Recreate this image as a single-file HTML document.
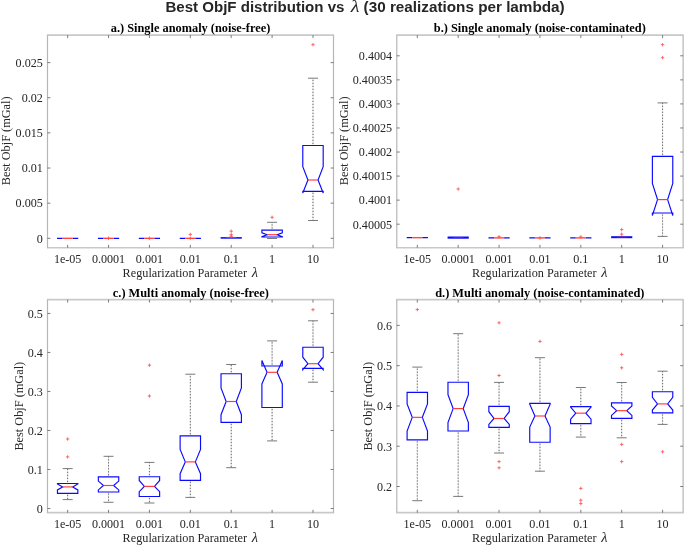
<!DOCTYPE html>
<html><head><meta charset="utf-8"><title>Best ObjF distribution vs lambda</title>
<style>html,body{margin:0;padding:0;background:#fff}body{width:685px;height:546px;overflow:hidden;font-family:"Liberation Serif",serif}svg{display:block;will-change:transform}</style>
</head><body>
<svg width="685" height="546" viewBox="0 0 685 546" font-family="'Liberation Serif', serif" fill="#262626">
<rect width="685" height="546" fill="#fff"/>
<text x="344.4" y="12.3" text-anchor="end" font-family="'Liberation Sans', sans-serif" font-weight="bold" font-size="15.05" fill="#262626">Best ObjF distribution vs</text>
<text transform="translate(355 12.3) scale(1.15 1)" text-anchor="middle" font-style="italic" font-size="17.5" fill="#262626">λ</text>
<text x="363.6" y="12.3" text-anchor="start" font-family="'Liberation Sans', sans-serif" font-weight="bold" font-size="15.28" fill="#262626">(30 realizations per lambda)</text>
<path d="M46.9 35.15H334.1M46.9 247.75H334.1" fill="none" stroke="#c9c9c9" stroke-width="1.7"/>
<path d="M47.5 35.15V247.75M333.5 35.15V247.75" fill="none" stroke="#b6b6b6" stroke-width="1.2"/>
<path d="M67.65 247.75v-2.9M67.65 35.15v2.9M108.54 247.75v-2.9M108.54 35.15v2.9M149.43 247.75v-2.9M149.43 35.15v2.9M190.32 247.75v-2.9M190.32 35.15v2.9M231.21 247.75v-2.9M231.21 35.15v2.9M272.10 247.75v-2.9M272.10 35.15v2.9M312.99 247.75v-2.9M312.99 35.15v2.9M47.5 238.30h2.9M333.5 238.30h-2.9M47.5 203.16h2.9M333.5 203.16h-2.9M47.5 168.02h2.9M333.5 168.02h-2.9M47.5 132.88h2.9M333.5 132.88h-2.9M47.5 97.74h2.9M333.5 97.74h-2.9M47.5 62.60h2.9M333.5 62.60h-2.9" fill="none" stroke="#5c5c5c" stroke-width="0.8"/>
<text x="67.65" y="262.85" text-anchor="middle" font-size="12.1">1e-05</text>
<text x="108.54" y="262.85" text-anchor="middle" font-size="12.1">0.0001</text>
<text x="149.43" y="262.85" text-anchor="middle" font-size="12.1">0.001</text>
<text x="190.32" y="262.85" text-anchor="middle" font-size="12.1">0.01</text>
<text x="231.21" y="262.85" text-anchor="middle" font-size="12.1">0.1</text>
<text x="272.10" y="262.85" text-anchor="middle" font-size="12.1">1</text>
<text x="312.99" y="262.85" text-anchor="middle" font-size="12.1">10</text>
<text x="42.80" y="242.60" text-anchor="end" font-size="12.1">0</text>
<text x="42.80" y="207.46" text-anchor="end" font-size="12.1">0.005</text>
<text x="42.80" y="172.32" text-anchor="end" font-size="12.1">0.01</text>
<text x="42.80" y="137.18" text-anchor="end" font-size="12.1">0.015</text>
<text x="42.80" y="102.04" text-anchor="end" font-size="12.1">0.02</text>
<text x="42.80" y="66.90" text-anchor="end" font-size="12.1">0.025</text>
<text x="122.60" y="277.20" font-size="12.22">Regularization Parameter</text>
<text x="255.00" y="277.20" text-anchor="middle" font-style="italic" font-size="14.5">λ</text>
<text x="190.50" y="32.25" text-anchor="middle" font-size="12.35" font-weight="bold" fill="#000">a.) Single anomaly (noise-free)</text>
<text transform="translate(10.30 140.85) rotate(-90)" text-anchor="middle" font-size="12.3">Best ObjF (mGal)</text>
<path d="M57.05 238.30H62.60M72.70 238.30H78.25" stroke="#0a0aff" stroke-width="1.3" fill="none"/>
<path d="M62.60 238.30h10.10" stroke="#ff3a3a" stroke-width="1.3" fill="none"/>
<path d="M97.94 238.30H103.49M113.59 238.30H119.14" stroke="#0a0aff" stroke-width="1.3" fill="none"/>
<path d="M103.49 238.30h10.10" stroke="#ff3a3a" stroke-width="1.3" fill="none"/>
<path d="M106.84 238.30h3.4M108.54 236.60v3.4" stroke="#ff4a4a" stroke-width="0.8" fill="none"/>
<path d="M138.83 238.30H144.38M154.48 238.30H160.03" stroke="#0a0aff" stroke-width="1.3" fill="none"/>
<path d="M144.38 238.30h10.10" stroke="#ff3a3a" stroke-width="1.3" fill="none"/>
<path d="M147.73 238.30h3.4M149.43 236.60v3.4" stroke="#ff4a4a" stroke-width="0.8" fill="none"/>
<path d="M179.72 238.30H185.27M195.37 238.30H200.92" stroke="#0a0aff" stroke-width="1.3" fill="none"/>
<path d="M185.27 238.30h10.10" stroke="#ff3a3a" stroke-width="1.3" fill="none"/>
<path d="M188.62 234.40h3.4M190.32 232.70v3.4M188.62 238.30h3.4M190.32 236.60v3.4" stroke="#ff4a4a" stroke-width="0.8" fill="none"/>
<path d="M220.61 237.90h21.20" stroke="#0a0aff" stroke-width="1.6" fill="none"/>
<path d="M226.16 237.45h10.10" stroke="#ff3030" stroke-width="0.9" fill="none"/>
<path d="M229.51 231.20h3.4M231.21 229.50v3.4M229.51 234.70h3.4M231.21 233.00v3.4M229.51 236.30h3.4M231.21 234.60v3.4" stroke="#ff4a4a" stroke-width="0.8" fill="none"/>
<path d="M272.10 229.50V222.30M272.10 237.60V238.50" stroke="#dedede" stroke-width="0.9" fill="none"/>
<path d="M272.10 229.50V222.30M272.10 237.60V238.50" stroke="#484848" stroke-width="0.8" stroke-dasharray="1.2 1.8" stroke-dashoffset="-0.9" fill="none"/>
<path d="M267.10 222.30h10.0M267.10 238.50h10.0" stroke="#6a6a6a" stroke-width="0.9" fill="none"/>
<path d="M261.90 237.00L261.90 236.70L267.05 234.70L261.90 232.80L261.90 230.10L282.30 230.10L282.30 232.80L277.15 234.70L282.30 236.70L282.30 237.00Z" stroke="#0a0aff" stroke-width="1.15" fill="none" stroke-linejoin="miter"/>
<path d="M267.05 234.70H277.15" stroke="#ff3a3a" stroke-width="1.15" fill="none"/>
<path d="M270.40 217.30h3.4M272.10 215.60v3.4" stroke="#ff4a4a" stroke-width="0.8" fill="none"/>
<path d="M312.99 144.90V78.20M312.99 191.90V220.50" stroke="#dedede" stroke-width="0.9" fill="none"/>
<path d="M312.99 144.90V78.20M312.99 191.90V220.50" stroke="#484848" stroke-width="0.8" stroke-dasharray="1.2 1.8" stroke-dashoffset="-0.9" fill="none"/>
<path d="M307.99 78.20h10.0M307.99 220.50h10.0" stroke="#6a6a6a" stroke-width="0.9" fill="none"/>
<path d="M302.79 191.30L302.79 193.00L307.94 180.00L302.79 166.60L302.79 145.50L323.19 145.50L323.19 166.60L318.04 180.00L323.19 193.00L323.19 191.30Z" stroke="#0a0aff" stroke-width="1.15" fill="none" stroke-linejoin="miter"/>
<path d="M307.94 180.00H318.04" stroke="#ff3a3a" stroke-width="1.15" fill="none"/>
<path d="M311.29 44.70h3.4M312.99 43.00v3.4" stroke="#ff4a4a" stroke-width="0.8" fill="none"/>
<path d="M396.2 35.15H683.7M396.2 247.75H683.7" fill="none" stroke="#c9c9c9" stroke-width="1.7"/>
<path d="M396.8 35.15V247.75M683.1 35.15V247.75" fill="none" stroke="#b6b6b6" stroke-width="1.2"/>
<path d="M417.30 247.75v-2.9M417.30 35.15v2.9M458.18 247.75v-2.9M458.18 35.15v2.9M499.06 247.75v-2.9M499.06 35.15v2.9M539.94 247.75v-2.9M539.94 35.15v2.9M580.82 247.75v-2.9M580.82 35.15v2.9M621.70 247.75v-2.9M621.70 35.15v2.9M662.58 247.75v-2.9M662.58 35.15v2.9M396.8 224.20h2.9M683.1 224.20h-2.9M396.8 200.14h2.9M683.1 200.14h-2.9M396.8 176.09h2.9M683.1 176.09h-2.9M396.8 152.03h2.9M683.1 152.03h-2.9M396.8 127.97h2.9M683.1 127.97h-2.9M396.8 103.91h2.9M683.1 103.91h-2.9M396.8 79.86h2.9M683.1 79.86h-2.9M396.8 55.80h2.9M683.1 55.80h-2.9" fill="none" stroke="#5c5c5c" stroke-width="0.8"/>
<text x="417.30" y="262.85" text-anchor="middle" font-size="12.1">1e-05</text>
<text x="458.18" y="262.85" text-anchor="middle" font-size="12.1">0.0001</text>
<text x="499.06" y="262.85" text-anchor="middle" font-size="12.1">0.001</text>
<text x="539.94" y="262.85" text-anchor="middle" font-size="12.1">0.01</text>
<text x="580.82" y="262.85" text-anchor="middle" font-size="12.1">0.1</text>
<text x="621.70" y="262.85" text-anchor="middle" font-size="12.1">1</text>
<text x="662.58" y="262.85" text-anchor="middle" font-size="12.1">10</text>
<text x="392.10" y="228.50" text-anchor="end" font-size="12.1">0.40005</text>
<text x="392.10" y="204.44" text-anchor="end" font-size="12.1">0.4001</text>
<text x="392.10" y="180.39" text-anchor="end" font-size="12.1">0.40015</text>
<text x="392.10" y="156.33" text-anchor="end" font-size="12.1">0.4002</text>
<text x="392.10" y="132.27" text-anchor="end" font-size="12.1">0.40025</text>
<text x="392.10" y="108.21" text-anchor="end" font-size="12.1">0.4003</text>
<text x="392.10" y="84.16" text-anchor="end" font-size="12.1">0.40035</text>
<text x="392.10" y="60.10" text-anchor="end" font-size="12.1">0.4004</text>
<text x="472.05" y="277.20" font-size="12.22">Regularization Parameter</text>
<text x="604.45" y="277.20" text-anchor="middle" font-style="italic" font-size="14.5">λ</text>
<text x="539.80" y="32.25" text-anchor="middle" font-size="12.35" font-weight="bold" fill="#000">b.) Single anomaly (noise-contaminated)</text>
<text transform="translate(348.10 140.85) rotate(-90)" text-anchor="middle" font-size="12.3">Best ObjF (mGal)</text>
<path d="M406.70 237.70H412.25M422.35 237.70H427.90" stroke="#0a0aff" stroke-width="1.3" fill="none"/>
<path d="M412.25 237.70h10.10" stroke="#ff3a3a" stroke-width="1.3" fill="none"/>
<path d="M447.58 237.60h21.20" stroke="#0a0aff" stroke-width="2.2" fill="none"/>
<path d="M453.13 237.60h10.10" stroke="#c01048" stroke-width="0.9" fill="none"/>
<path d="M456.48 189.00h3.4M458.18 187.30v3.4" stroke="#ff4a4a" stroke-width="0.8" fill="none"/>
<path d="M488.46 237.90H494.01M504.11 237.90H509.66" stroke="#0a0aff" stroke-width="1.3" fill="none"/>
<path d="M494.01 237.90h10.10" stroke="#ff3a3a" stroke-width="1.3" fill="none"/>
<path d="M497.36 236.70h3.4M499.06 235.00v3.4" stroke="#ff4a4a" stroke-width="0.8" fill="none"/>
<path d="M529.34 237.90H534.89M544.99 237.90H550.54" stroke="#0a0aff" stroke-width="1.3" fill="none"/>
<path d="M534.89 237.90h10.10" stroke="#ff3a3a" stroke-width="1.3" fill="none"/>
<path d="M538.24 237.90h3.4M539.94 236.20v3.4" stroke="#ff4a4a" stroke-width="0.8" fill="none"/>
<path d="M570.22 237.90H575.77M585.87 237.90H591.42" stroke="#0a0aff" stroke-width="1.3" fill="none"/>
<path d="M575.77 237.90h10.10" stroke="#ff3a3a" stroke-width="1.3" fill="none"/>
<path d="M579.12 236.90h3.4M580.82 235.20v3.4" stroke="#ff4a4a" stroke-width="0.8" fill="none"/>
<path d="M611.10 237.20h21.20" stroke="#0a0aff" stroke-width="2.0" fill="none"/>
<path d="M616.65 237.20h10.10" stroke="#c01048" stroke-width="0.9" fill="none"/>
<path d="M620.00 229.60h3.4M621.70 227.90v3.4M620.00 234.20h3.4M621.70 232.50v3.4" stroke="#ff4a4a" stroke-width="0.8" fill="none"/>
<path d="M662.58 155.80V102.90M662.58 213.60V236.40" stroke="#dedede" stroke-width="0.9" fill="none"/>
<path d="M662.58 155.80V102.90M662.58 213.60V236.40" stroke="#484848" stroke-width="0.8" stroke-dasharray="1.2 1.8" stroke-dashoffset="-0.9" fill="none"/>
<path d="M657.58 102.90h10.0M657.58 236.40h10.0" stroke="#6a6a6a" stroke-width="0.9" fill="none"/>
<path d="M652.38 213.00L652.38 215.50L657.53 199.60L652.38 183.30L652.38 156.40L672.78 156.40L672.78 183.30L667.63 199.60L672.78 215.50L672.78 213.00Z" stroke="#0a0aff" stroke-width="1.15" fill="none" stroke-linejoin="miter"/>
<path d="M657.53 199.60H667.63" stroke="#ff3a3a" stroke-width="1.15" fill="none"/>
<path d="M660.88 44.70h3.4M662.58 43.00v3.4M660.88 57.70h3.4M662.58 56.00v3.4" stroke="#ff4a4a" stroke-width="0.8" fill="none"/>
<path d="M46.9 299.7H334.1M46.9 512.7H334.1" fill="none" stroke="#c9c9c9" stroke-width="1.7"/>
<path d="M47.5 299.7V512.7M333.5 299.7V512.7" fill="none" stroke="#b6b6b6" stroke-width="1.2"/>
<path d="M67.65 512.7v-2.9M67.65 299.7v2.9M108.54 512.7v-2.9M108.54 299.7v2.9M149.43 512.7v-2.9M149.43 299.7v2.9M190.32 512.7v-2.9M190.32 299.7v2.9M231.21 512.7v-2.9M231.21 299.7v2.9M272.10 512.7v-2.9M272.10 299.7v2.9M312.99 512.7v-2.9M312.99 299.7v2.9M47.5 508.50h2.9M333.5 508.50h-2.9M47.5 469.49h2.9M333.5 469.49h-2.9M47.5 430.48h2.9M333.5 430.48h-2.9M47.5 391.47h2.9M333.5 391.47h-2.9M47.5 352.46h2.9M333.5 352.46h-2.9M47.5 313.45h2.9M333.5 313.45h-2.9" fill="none" stroke="#5c5c5c" stroke-width="0.8"/>
<text x="67.65" y="527.80" text-anchor="middle" font-size="12.1">1e-05</text>
<text x="108.54" y="527.80" text-anchor="middle" font-size="12.1">0.0001</text>
<text x="149.43" y="527.80" text-anchor="middle" font-size="12.1">0.001</text>
<text x="190.32" y="527.80" text-anchor="middle" font-size="12.1">0.01</text>
<text x="231.21" y="527.80" text-anchor="middle" font-size="12.1">0.1</text>
<text x="272.10" y="527.80" text-anchor="middle" font-size="12.1">1</text>
<text x="312.99" y="527.80" text-anchor="middle" font-size="12.1">10</text>
<text x="42.80" y="512.80" text-anchor="end" font-size="12.1">0</text>
<text x="42.80" y="473.79" text-anchor="end" font-size="12.1">0.1</text>
<text x="42.80" y="434.78" text-anchor="end" font-size="12.1">0.2</text>
<text x="42.80" y="395.77" text-anchor="end" font-size="12.1">0.3</text>
<text x="42.80" y="356.76" text-anchor="end" font-size="12.1">0.4</text>
<text x="42.80" y="317.75" text-anchor="end" font-size="12.1">0.5</text>
<text x="122.60" y="542.15" font-size="12.22">Regularization Parameter</text>
<text x="255.00" y="542.15" text-anchor="middle" font-style="italic" font-size="14.5">λ</text>
<text x="190.90" y="296.80" text-anchor="middle" font-size="12.35" font-weight="bold" fill="#000">c.) Multi anomaly (noise-free)</text>
<text transform="translate(23.20 406.20) rotate(-90)" text-anchor="middle" font-size="12.3">Best ObjF (mGal)</text>
<path d="M67.65 482.90V468.60M67.65 494.00V499.60" stroke="#dedede" stroke-width="0.9" fill="none"/>
<path d="M67.65 482.90V468.60M67.65 494.00V499.60" stroke="#484848" stroke-width="0.8" stroke-dasharray="1.2 1.8" stroke-dashoffset="-0.9" fill="none"/>
<path d="M62.65 468.60h10.0M62.65 499.60h10.0" stroke="#6a6a6a" stroke-width="0.9" fill="none"/>
<path d="M57.45 493.40L57.45 489.90L62.60 486.90L57.45 483.90L57.45 483.50L77.85 483.50L77.85 483.90L72.70 486.90L77.85 489.90L77.85 493.40Z" stroke="#0a0aff" stroke-width="1.15" fill="none" stroke-linejoin="miter"/>
<path d="M62.60 486.90H72.70" stroke="#ff3a3a" stroke-width="1.15" fill="none"/>
<path d="M65.95 439.00h3.4M67.65 437.30v3.4M65.95 456.90h3.4M67.65 455.20v3.4" stroke="#ff4a4a" stroke-width="0.8" fill="none"/>
<path d="M108.54 476.30V456.30M108.54 492.60V502.30" stroke="#dedede" stroke-width="0.9" fill="none"/>
<path d="M108.54 476.30V456.30M108.54 492.60V502.30" stroke="#484848" stroke-width="0.8" stroke-dasharray="1.2 1.8" stroke-dashoffset="-0.9" fill="none"/>
<path d="M103.54 456.30h10.0M103.54 502.30h10.0" stroke="#6a6a6a" stroke-width="0.9" fill="none"/>
<path d="M98.34 492.00L98.34 489.90L103.49 485.50L98.34 481.10L98.34 476.90L118.74 476.90L118.74 481.10L113.59 485.50L118.74 489.90L118.74 492.00Z" stroke="#0a0aff" stroke-width="1.15" fill="none" stroke-linejoin="miter"/>
<path d="M103.49 485.50H113.59" stroke="#ff3a3a" stroke-width="1.15" fill="none"/>
<path d="M149.43 476.10V462.40M149.43 497.10V503.00" stroke="#dedede" stroke-width="0.9" fill="none"/>
<path d="M149.43 476.10V462.40M149.43 497.10V503.00" stroke="#484848" stroke-width="0.8" stroke-dasharray="1.2 1.8" stroke-dashoffset="-0.9" fill="none"/>
<path d="M144.43 462.40h10.0M144.43 503.00h10.0" stroke="#6a6a6a" stroke-width="0.9" fill="none"/>
<path d="M139.23 496.50L139.23 491.70L144.38 486.40L139.23 480.50L139.23 476.70L159.63 476.70L159.63 480.50L154.48 486.40L159.63 491.70L159.63 496.50Z" stroke="#0a0aff" stroke-width="1.15" fill="none" stroke-linejoin="miter"/>
<path d="M144.38 486.40H154.48" stroke="#ff3a3a" stroke-width="1.15" fill="none"/>
<path d="M147.73 365.20h3.4M149.43 363.50v3.4M147.73 396.00h3.4M149.43 394.30v3.4" stroke="#ff4a4a" stroke-width="0.8" fill="none"/>
<path d="M190.32 435.20V374.20M190.32 480.90V497.40" stroke="#dedede" stroke-width="0.9" fill="none"/>
<path d="M190.32 435.20V374.20M190.32 480.90V497.40" stroke="#484848" stroke-width="0.8" stroke-dasharray="1.2 1.8" stroke-dashoffset="-0.9" fill="none"/>
<path d="M185.32 374.20h10.0M185.32 497.40h10.0" stroke="#6a6a6a" stroke-width="0.9" fill="none"/>
<path d="M180.12 480.30L180.12 473.70L185.27 461.90L180.12 449.40L180.12 435.80L200.52 435.80L200.52 449.40L195.37 461.90L200.52 473.70L200.52 480.30Z" stroke="#0a0aff" stroke-width="1.15" fill="none" stroke-linejoin="miter"/>
<path d="M185.27 461.90H195.37" stroke="#ff3a3a" stroke-width="1.15" fill="none"/>
<path d="M231.21 373.10V364.50M231.21 423.00V467.70" stroke="#dedede" stroke-width="0.9" fill="none"/>
<path d="M231.21 373.10V364.50M231.21 423.00V467.70" stroke="#484848" stroke-width="0.8" stroke-dasharray="1.2 1.8" stroke-dashoffset="-0.9" fill="none"/>
<path d="M226.21 364.50h10.0M226.21 467.70h10.0" stroke="#6a6a6a" stroke-width="0.9" fill="none"/>
<path d="M221.01 422.40L221.01 414.70L226.16 401.50L221.01 388.00L221.01 373.70L241.41 373.70L241.41 388.00L236.26 401.50L241.41 414.70L241.41 422.40Z" stroke="#0a0aff" stroke-width="1.15" fill="none" stroke-linejoin="miter"/>
<path d="M226.16 401.50H236.26" stroke="#ff3a3a" stroke-width="1.15" fill="none"/>
<path d="M272.10 365.40V340.90M272.10 408.10V440.90" stroke="#dedede" stroke-width="0.9" fill="none"/>
<path d="M272.10 365.40V340.90M272.10 408.10V440.90" stroke="#484848" stroke-width="0.8" stroke-dasharray="1.2 1.8" stroke-dashoffset="-0.9" fill="none"/>
<path d="M267.10 340.90h10.0M267.10 440.90h10.0" stroke="#6a6a6a" stroke-width="0.9" fill="none"/>
<path d="M261.90 407.50L261.90 383.90L267.05 372.30L261.90 360.40L261.90 366.00L282.30 366.00L282.30 360.40L277.15 372.30L282.30 383.90L282.30 407.50Z" stroke="#0a0aff" stroke-width="1.15" fill="none" stroke-linejoin="miter"/>
<path d="M267.05 372.30H277.15" stroke="#ff3a3a" stroke-width="1.15" fill="none"/>
<path d="M312.99 346.60V320.80M312.99 368.90V382.20" stroke="#dedede" stroke-width="0.9" fill="none"/>
<path d="M312.99 346.60V320.80M312.99 368.90V382.20" stroke="#484848" stroke-width="0.8" stroke-dasharray="1.2 1.8" stroke-dashoffset="-0.9" fill="none"/>
<path d="M307.99 320.80h10.0M307.99 382.20h10.0" stroke="#6a6a6a" stroke-width="0.9" fill="none"/>
<path d="M302.79 368.30L302.79 369.60L307.94 363.70L302.79 357.20L302.79 347.20L323.19 347.20L323.19 357.20L318.04 363.70L323.19 369.60L323.19 368.30Z" stroke="#0a0aff" stroke-width="1.15" fill="none" stroke-linejoin="miter"/>
<path d="M307.94 363.70H318.04" stroke="#ff3a3a" stroke-width="1.15" fill="none"/>
<path d="M311.29 309.70h3.4M312.99 308.00v3.4" stroke="#ff4a4a" stroke-width="0.8" fill="none"/>
<path d="M396.2 299.7H683.7M396.2 512.7H683.7" fill="none" stroke="#c9c9c9" stroke-width="1.7"/>
<path d="M396.8 299.7V512.7M683.1 299.7V512.7" fill="none" stroke="#b6b6b6" stroke-width="1.2"/>
<path d="M417.30 512.7v-2.9M417.30 299.7v2.9M458.18 512.7v-2.9M458.18 299.7v2.9M499.06 512.7v-2.9M499.06 299.7v2.9M539.94 512.7v-2.9M539.94 299.7v2.9M580.82 512.7v-2.9M580.82 299.7v2.9M621.70 512.7v-2.9M621.70 299.7v2.9M662.58 512.7v-2.9M662.58 299.7v2.9M396.8 486.50h2.9M683.1 486.50h-2.9M396.8 446.22h2.9M683.1 446.22h-2.9M396.8 405.94h2.9M683.1 405.94h-2.9M396.8 365.66h2.9M683.1 365.66h-2.9M396.8 325.38h2.9M683.1 325.38h-2.9" fill="none" stroke="#5c5c5c" stroke-width="0.8"/>
<text x="417.30" y="527.80" text-anchor="middle" font-size="12.1">1e-05</text>
<text x="458.18" y="527.80" text-anchor="middle" font-size="12.1">0.0001</text>
<text x="499.06" y="527.80" text-anchor="middle" font-size="12.1">0.001</text>
<text x="539.94" y="527.80" text-anchor="middle" font-size="12.1">0.01</text>
<text x="580.82" y="527.80" text-anchor="middle" font-size="12.1">0.1</text>
<text x="621.70" y="527.80" text-anchor="middle" font-size="12.1">1</text>
<text x="662.58" y="527.80" text-anchor="middle" font-size="12.1">10</text>
<text x="392.10" y="490.80" text-anchor="end" font-size="12.1">0.2</text>
<text x="392.10" y="450.52" text-anchor="end" font-size="12.1">0.3</text>
<text x="392.10" y="410.24" text-anchor="end" font-size="12.1">0.4</text>
<text x="392.10" y="369.96" text-anchor="end" font-size="12.1">0.5</text>
<text x="392.10" y="329.68" text-anchor="end" font-size="12.1">0.6</text>
<text x="472.05" y="542.15" font-size="12.22">Regularization Parameter</text>
<text x="604.45" y="542.15" text-anchor="middle" font-style="italic" font-size="14.5">λ</text>
<text x="539.80" y="296.80" text-anchor="middle" font-size="12.35" font-weight="bold" fill="#000">d.) Multi anomaly (noise-contaminated)</text>
<text transform="translate(372.20 406.20) rotate(-90)" text-anchor="middle" font-size="12.3">Best ObjF (mGal)</text>
<path d="M417.30 391.70V367.10M417.30 440.40V500.70" stroke="#dedede" stroke-width="0.9" fill="none"/>
<path d="M417.30 391.70V367.10M417.30 440.40V500.70" stroke="#484848" stroke-width="0.8" stroke-dasharray="1.2 1.8" stroke-dashoffset="-0.9" fill="none"/>
<path d="M412.30 367.10h10.0M412.30 500.70h10.0" stroke="#6a6a6a" stroke-width="0.9" fill="none"/>
<path d="M407.10 439.80L407.10 431.00L412.25 417.35L407.10 403.90L407.10 392.30L427.50 392.30L427.50 403.90L422.35 417.35L427.50 431.00L427.50 439.80Z" stroke="#0a0aff" stroke-width="1.15" fill="none" stroke-linejoin="miter"/>
<path d="M412.25 417.35H422.35" stroke="#ff3a3a" stroke-width="1.15" fill="none"/>
<path d="M415.60 309.55h3.4M417.30 307.85v3.4" stroke="#ff4a4a" stroke-width="0.8" fill="none"/>
<path d="M458.18 381.60V333.70M458.18 431.60V496.40" stroke="#dedede" stroke-width="0.9" fill="none"/>
<path d="M458.18 381.60V333.70M458.18 431.60V496.40" stroke="#484848" stroke-width="0.8" stroke-dasharray="1.2 1.8" stroke-dashoffset="-0.9" fill="none"/>
<path d="M453.18 333.70h10.0M453.18 496.40h10.0" stroke="#6a6a6a" stroke-width="0.9" fill="none"/>
<path d="M447.98 431.00L447.98 422.60L453.13 408.60L447.98 394.60L447.98 382.20L468.38 382.20L468.38 394.60L463.23 408.60L468.38 422.60L468.38 431.00Z" stroke="#0a0aff" stroke-width="1.15" fill="none" stroke-linejoin="miter"/>
<path d="M453.13 408.60H463.23" stroke="#ff3a3a" stroke-width="1.15" fill="none"/>
<path d="M499.06 405.70V382.40M499.06 427.90V453.00" stroke="#dedede" stroke-width="0.9" fill="none"/>
<path d="M499.06 405.70V382.40M499.06 427.90V453.00" stroke="#484848" stroke-width="0.8" stroke-dasharray="1.2 1.8" stroke-dashoffset="-0.9" fill="none"/>
<path d="M494.06 382.40h10.0M494.06 453.00h10.0" stroke="#6a6a6a" stroke-width="0.9" fill="none"/>
<path d="M488.86 427.30L488.86 424.40L494.01 418.50L488.86 411.70L488.86 406.30L509.26 406.30L509.26 411.70L504.11 418.50L509.26 424.40L509.26 427.30Z" stroke="#0a0aff" stroke-width="1.15" fill="none" stroke-linejoin="miter"/>
<path d="M494.01 418.50H504.11" stroke="#ff3a3a" stroke-width="1.15" fill="none"/>
<path d="M497.36 322.80h3.4M499.06 321.10v3.4M497.36 375.50h3.4M499.06 373.80v3.4M497.36 461.60h3.4M499.06 459.90v3.4M497.36 467.80h3.4M499.06 466.10v3.4" stroke="#ff4a4a" stroke-width="0.8" fill="none"/>
<path d="M539.94 402.80V357.70M539.94 442.80V471.20" stroke="#dedede" stroke-width="0.9" fill="none"/>
<path d="M539.94 402.80V357.70M539.94 442.80V471.20" stroke="#484848" stroke-width="0.8" stroke-dasharray="1.2 1.8" stroke-dashoffset="-0.9" fill="none"/>
<path d="M534.94 357.70h10.0M534.94 471.20h10.0" stroke="#6a6a6a" stroke-width="0.9" fill="none"/>
<path d="M529.74 442.20L529.74 427.10L534.89 416.00L529.74 404.20L529.74 403.40L550.14 403.40L550.14 404.20L544.99 416.00L550.14 427.10L550.14 442.20Z" stroke="#0a0aff" stroke-width="1.15" fill="none" stroke-linejoin="miter"/>
<path d="M534.89 416.00H544.99" stroke="#ff3a3a" stroke-width="1.15" fill="none"/>
<path d="M538.24 341.40h3.4M539.94 339.70v3.4" stroke="#ff4a4a" stroke-width="0.8" fill="none"/>
<path d="M580.82 406.00V387.50M580.82 424.20V437.10" stroke="#dedede" stroke-width="0.9" fill="none"/>
<path d="M580.82 406.00V387.50M580.82 424.20V437.10" stroke="#484848" stroke-width="0.8" stroke-dasharray="1.2 1.8" stroke-dashoffset="-0.9" fill="none"/>
<path d="M575.82 387.50h10.0M575.82 437.10h10.0" stroke="#6a6a6a" stroke-width="0.9" fill="none"/>
<path d="M570.62 423.60L570.62 419.10L575.77 413.15L570.62 407.00L570.62 406.60L591.02 406.60L591.02 407.00L585.87 413.15L591.02 419.10L591.02 423.60Z" stroke="#0a0aff" stroke-width="1.15" fill="none" stroke-linejoin="miter"/>
<path d="M575.77 413.15H585.87" stroke="#ff3a3a" stroke-width="1.15" fill="none"/>
<path d="M579.12 488.40h3.4M580.82 486.70v3.4M579.12 500.20h3.4M580.82 498.50v3.4M579.12 503.60h3.4M580.82 501.90v3.4" stroke="#ff4a4a" stroke-width="0.8" fill="none"/>
<path d="M621.70 402.30V382.50M621.70 419.00V437.80" stroke="#dedede" stroke-width="0.9" fill="none"/>
<path d="M621.70 402.30V382.50M621.70 419.00V437.80" stroke="#484848" stroke-width="0.8" stroke-dasharray="1.2 1.8" stroke-dashoffset="-0.9" fill="none"/>
<path d="M616.70 382.50h10.0M616.70 437.80h10.0" stroke="#6a6a6a" stroke-width="0.9" fill="none"/>
<path d="M611.50 418.40L611.50 415.40L616.65 410.70L611.50 405.90L611.50 402.90L631.90 402.90L631.90 405.90L626.75 410.70L631.90 415.40L631.90 418.40Z" stroke="#0a0aff" stroke-width="1.15" fill="none" stroke-linejoin="miter"/>
<path d="M616.65 410.70H626.75" stroke="#ff3a3a" stroke-width="1.15" fill="none"/>
<path d="M620.00 354.40h3.4M621.70 352.70v3.4M620.00 367.80h3.4M621.70 366.10v3.4M620.00 444.40h3.4M621.70 442.70v3.4M620.00 461.60h3.4M621.70 459.90v3.4" stroke="#ff4a4a" stroke-width="0.8" fill="none"/>
<path d="M662.58 391.10V371.20M662.58 413.50V424.40" stroke="#dedede" stroke-width="0.9" fill="none"/>
<path d="M662.58 391.10V371.20M662.58 413.50V424.40" stroke="#484848" stroke-width="0.8" stroke-dasharray="1.2 1.8" stroke-dashoffset="-0.9" fill="none"/>
<path d="M657.58 371.20h10.0M657.58 424.40h10.0" stroke="#6a6a6a" stroke-width="0.9" fill="none"/>
<path d="M652.38 412.90L652.38 410.05L657.53 403.90L652.38 397.35L652.38 391.70L672.78 391.70L672.78 397.35L667.63 403.90L672.78 410.05L672.78 412.90Z" stroke="#0a0aff" stroke-width="1.15" fill="none" stroke-linejoin="miter"/>
<path d="M657.53 403.90H667.63" stroke="#ff3a3a" stroke-width="1.15" fill="none"/>
<path d="M660.88 451.80h3.4M662.58 450.10v3.4" stroke="#ff4a4a" stroke-width="0.8" fill="none"/>
</svg>
</body></html>
